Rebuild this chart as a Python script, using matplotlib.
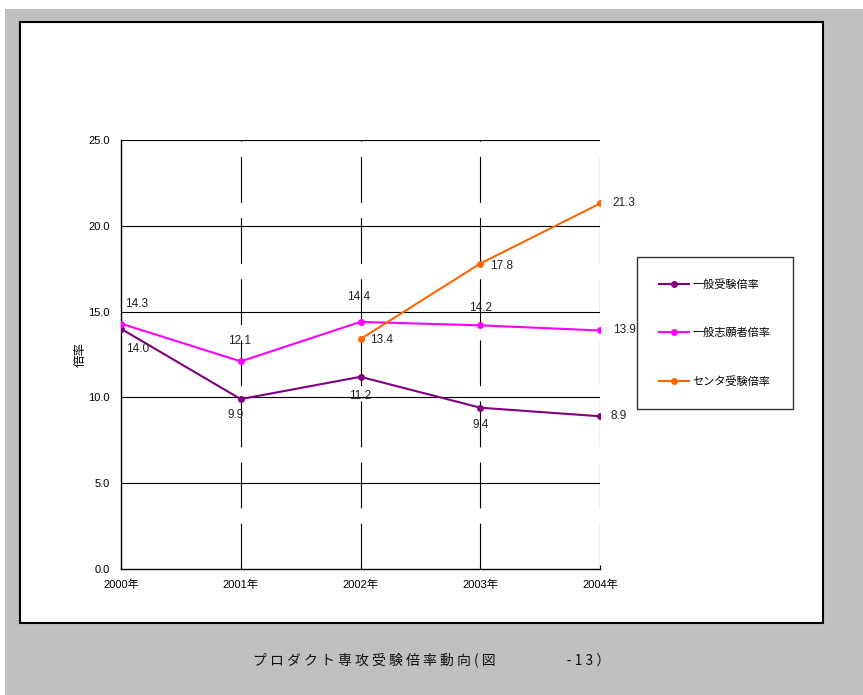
import matplotlib
matplotlib.use("Agg")
import matplotlib.pyplot as plt
from matplotlib.patches import Rectangle

# chart data
years = ["2000年", "2001年", "2002年", "2003年", "2004年"]
general_exam = [14.0, 9.9, 11.2, 9.4, 8.9]
general_apply = [14.3, 12.1, 14.4, 14.2, 13.9]
center_exam = [None, None, 13.4, 17.8, 21.3]
series_names = ["一般受験倍率", "一般志願者倍率", "センタ受験倍率"]
yticks = [0, 5, 10, 15, 20, 25]
ylabel = "倍率"
title = "プロダクト専攻受験倍率動向(図　　　　-13）"

W, H = 863, 695
JP = ["Liberation Sans", "Noto Sans CJK JP", "DejaVu Sans"]
plt.rcParams["font.family"] = JP
plt.rcParams["lines.scale_dashes"] = False


def fx(px):
    return px / W


def fy(py):
    return 1 - py / H


fig = plt.figure(figsize=(W / 100, H / 100), dpi=100, facecolor="white")
# gray page and white chart panel
fig.add_artist(Rectangle((fx(5), 0), 1 - fx(5), fy(9), transform=fig.transFigure,
                         facecolor="#c0c0c0", edgecolor="none", zorder=-10))
fig.add_artist(Rectangle((fx(20), fy(623)), fx(803), 601 / H, transform=fig.transFigure,
                         facecolor="white", edgecolor="black", linewidth=1.5, zorder=-9))

ax = fig.add_axes([fx(121), fy(569), fx(479), 429 / H])
ax.set_facecolor("none")
x = list(range(len(years)))

# grid: solid horizontals, long-dashed verticals
for v in yticks[1:]:
    ax.axhline(v, color="black", linewidth=0.8, zorder=1)
for i in x[1:]:
    ax.axvline(i, color="black", linewidth=0.8, dashes=(33, 11), zorder=1)

colors = ["#800080", "#ff00ff", "#ff6600"]
handles = []
for vals, c in zip([general_exam, general_apply, center_exam], colors):
    pts = [(i, v) for i, v in zip(x, vals) if v is not None]
    (ln,) = ax.plot([p[0] for p in pts], [p[1] for p in pts], color=c, linewidth=1.5,
                    marker="o", markersize=4, zorder=3)
    handles.append(ln)

# data labels (offsets in pixels)
exam_off = [(17, -20), (-5, -16), (0, -19), (0, -17), (19, 0)]
apply_off = [(16, 20), (-1, 20), (-2, 25), (0, 17), (24, 0)]
center_off = [None, None, (21, -1), (21, -2), (24, 0)]
for vals, offs in [(general_exam, exam_off), (general_apply, apply_off), (center_exam, center_off)]:
    for i, v in enumerate(vals):
        if v is None:
            continue
        ax.annotate(f"{v:.1f}", (i, v), xytext=offs[i], textcoords="offset pixels",
                    ha="center", va="center", fontsize=8.5, color="#222222", zorder=4)

ax.set_xlim(0, 4)
ax.set_ylim(0, 25)
ax.set_xticks(x)
ax.set_xticklabels(years)
ax.set_yticks(yticks)
ax.set_yticklabels([f"{v:.1f}" for v in yticks])
ax.tick_params(axis="x", direction="in", length=3, pad=8, labelsize=8)
ax.tick_params(axis="y", length=0, pad=8, labelsize=8)
for s in ["top", "right"]:
    ax.spines[s].set_visible(False)
for s in ["left", "bottom"]:
    ax.spines[s].set_linewidth(1.0)
ax.set_ylabel(ylabel, fontsize=9, labelpad=1)

leg = ax.legend(handles, series_names, loc="upper left",
                bbox_to_anchor=(fx(637), fy(405), fx(156), 148 / H),
                bbox_transform=fig.transFigure, mode="expand",
                fontsize=8, frameon=True, fancybox=False, edgecolor="black",
                labelspacing=3.4, borderpad=2.0, handlelength=2.7, handletextpad=0.3,
                borderaxespad=0)
leg.get_frame().set_linewidth(1.0)

fig.text(fx(253), fy(660), " ".join(title), ha="left", va="center", fontsize=10,
         family=["Noto Sans CJK JP", "DejaVu Sans"], color="#111111")

fig.savefig("out.png", dpi=100)
